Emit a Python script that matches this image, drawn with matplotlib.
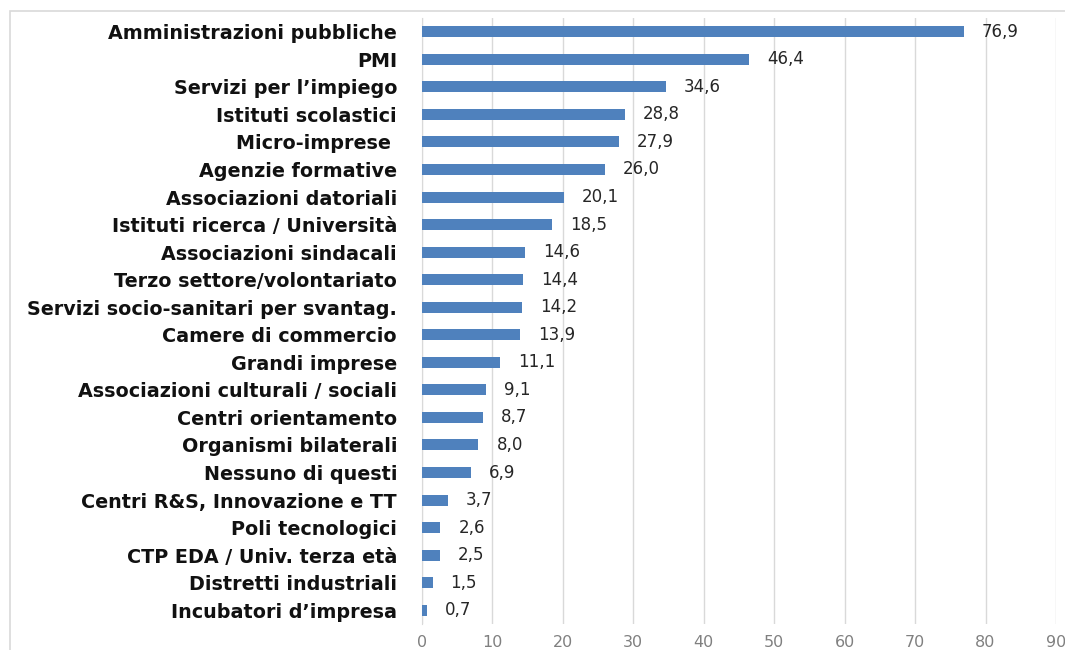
import matplotlib
matplotlib.use("Agg")
import matplotlib.pyplot as plt
from matplotlib.patches import Rectangle

categories = [
    "Amministrazioni pubbliche", "PMI", "Servizi per l\u2019impiego",
    "Istituti scolastici", "Micro-imprese ", "Agenzie formative",
    "Associazioni datoriali", "Istituti ricerca / Universit\u00e0",
    "Associazioni sindacali", "Terzo settore/volontariato",
    "Servizi socio-sanitari per svantag.", "Camere di commercio",
    "Grandi imprese", "Associazioni culturali / sociali",
    "Centri orientamento", "Organismi bilaterali", "Nessuno di questi",
    "Centri R&S, Innovazione e TT", "Poli tecnologici",
    "CTP EDA / Univ. terza et\u00e0", "Distretti industriali",
    "Incubatori d\u2019impresa",
]
values = [76.9, 46.4, 34.6, 28.8, 27.9, 26.0, 20.1, 18.5, 14.6, 14.4,
          14.2, 13.9, 11.1, 9.1, 8.7, 8.0, 6.9, 3.7, 2.6, 2.5, 1.5, 0.7]
xticks = list(range(0, 100, 10))

plt.rcParams["font.family"] = ["DejaVu Sans"]

W, H = 1065, 650
fig = plt.figure(figsize=(W / 100, H / 100), dpi=100)
fig.patches.append(Rectangle((10 / W, -0.1), 2.0, (H - 11) / H + 0.1,
                             transform=fig.transFigure, fill=False,
                             edgecolor="#d9d9d9", linewidth=1.2))

ax = fig.add_axes([422 / W, 26 / H, (1056 - 422) / W, (625 - 19) / H])
n = len(categories)
pos = list(range(n))
ax.barh(pos, values, height=0.4, color="#4f81bd", zorder=3)
ax.set_ylim(n - 0.5, -0.5)
ax.set_xlim(0, 90)
ax.set_xticks(xticks)
ax.set_xticklabels([str(t) for t in xticks], color="#808080", fontsize=11.5)
ax.set_yticks(pos)
ax.set_yticklabels(categories, fontsize=13.8, fontweight="bold", color="#111111")
ax.tick_params(axis="both", length=0)
ax.tick_params(axis="y", pad=18)
ax.tick_params(axis="x", pad=8)
ax.grid(axis="x", color="#d9d9d9", linewidth=1, zorder=0)
for s in ["top", "right", "bottom"]:
    ax.spines[s].set_visible(False)
ax.spines["left"].set_color("#d9d9d9")

for p, v in zip(pos, values):
    ax.annotate(f"{v:.1f}".replace(".", ","), (v, p), xytext=(13, 0),
                textcoords="offset points", va="center", ha="left",
                fontsize=12, color="#262626")

fig.savefig("out.png", dpi=100)
